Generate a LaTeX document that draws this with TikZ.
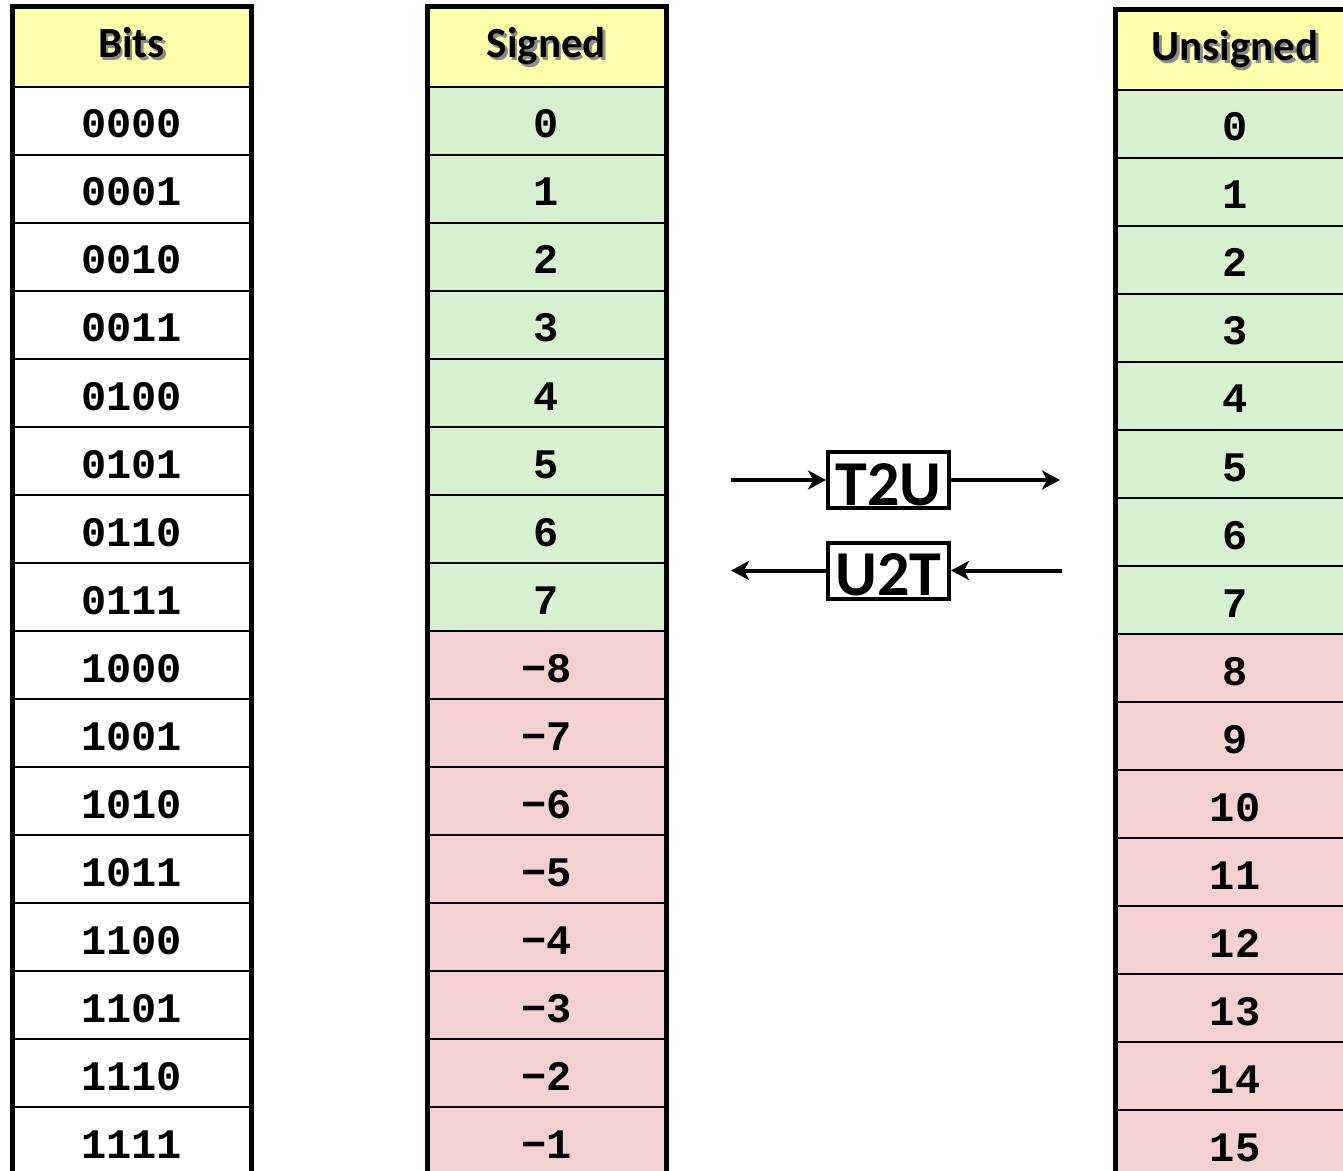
\documentclass[tikz,border=0pt]{standalone}
\usepackage{fontspec}
\setmainfont{Carlito}
\setmonofont{Liberation Mono}
\usetikzlibrary{arrows.meta}

\definecolor{hdrfill}{HTML}{FFFFAA}
\definecolor{posfill}{HTML}{D6F0D0}
\definecolor{negfill}{HTML}{F3D1D1}

% title with a soft drop shadow behind it
\newcommand\shadowtitle[1]{\rlap{\hspace{1.3pt}\raisebox{-1.3pt}{\color{black!45}#1}}#1}

\begin{document}
\begin{tikzpicture}[x=0.5pt,y=-0.5pt,
	cell/.style={draw, line width=1pt, minimum width=118.5pt, minimum height=34pt, inner sep=0pt,
		font=\ttfamily\bfseries\fontsize{21}{21}\selectfont, text height=17pt, text depth=0pt},
	headcell/.style={cell, fill=hdrfill, minimum height=39.5pt,
		font=\bfseries\fontsize{21.5}{21.5}\selectfont, text height=14pt, text depth=4pt},
	column border/.style={line width=2.5pt},
	convbox/.style={draw, line width=2pt, inner sep=0pt, minimum width=60.5pt,
		font=\bfseries\fontsize{32}{32}\selectfont, text height=26.5pt, text depth=1.5pt},
	conv arrow/.style={line width=2pt, -{Stealth[length=9pt, width=9.5pt, inset=2.5pt]}}]

	\useasboundingbox (0,0) rectangle (1343,1171);

	% headers
	\node[headcell] (bits-h) at (131.5,47.5) {\shadowtitle{Bits}};
	\node[headcell] (sgn-h) at (546.5,47.5) {\shadowtitle{Signed}};
	\node[headcell] (uns-h) at (1235,50.5) {\shadowtitle{Unsigned}};

	% bit patterns and their two readings
	\foreach \b [count=\i from 0] in {0000,0001,0010,0011,0100,0101,0110,0111,1000,1001,1010,1011,1100,1101,1110,1111}{
		\pgfmathtruncatemacro\s{abs(\i<8 ? \i : \i-16)}
		\ifnum\i<8 \def\rowfill{posfill}\def\sgnmark{}\else\def\rowfill{negfill}\def\sgnmark{−}\fi
		\node[cell] (bits-\i) at (131.5,121+68*\i) {\b};
		\node[cell, fill=\rowfill] (sgn-\i) at (546.5,121+68*\i) {\sgnmark\s};
		\node[cell, fill=\rowfill] (uns-\i) at (1235,124+68*\i) {\i};
	}

	\draw[column border] (bits-h.north west) rectangle (bits-15.south east);
	\draw[column border] (sgn-h.north west) rectangle (sgn-15.south east);
	\draw[column border] (uns-h.north west) rectangle (uns-15.south east);

	% conversions between the two columns
	\node[convbox] (t2u) at (888.5,480) {T2U};
	\node[convbox] (u2t) at (888.5,570.5) {U2T};

	\coordinate (t2u-in) at (731,480);
	\coordinate (t2u-out) at (1060,480);
	\coordinate (u2t-in) at (1062,570.5);
	\coordinate (u2t-out) at (731,570.5);

	\draw[conv arrow] (t2u-in) -- (t2u);
	\draw[conv arrow] (t2u) -- (t2u-out);
	\draw[conv arrow] (u2t-in) -- (u2t);
	\draw[conv arrow] (u2t) -- (u2t-out);

\end{tikzpicture}
\end{document}
